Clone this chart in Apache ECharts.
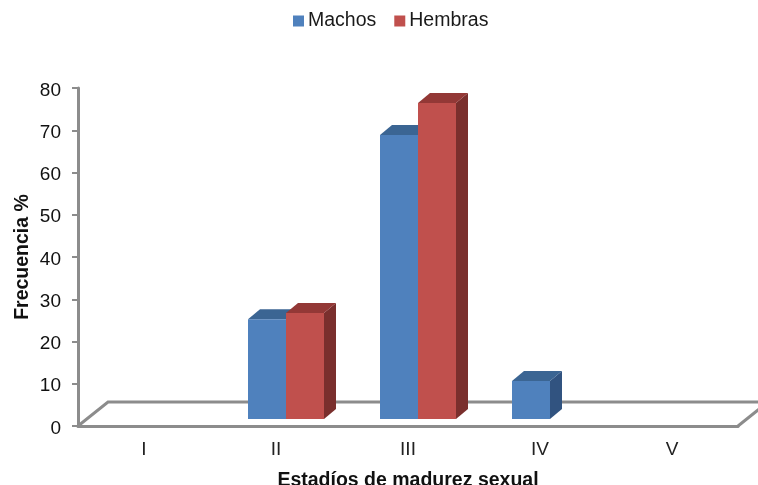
<!DOCTYPE html>
<html>
<head>
<meta charset="utf-8">
<style>html,body{margin:0;padding:0;background:#fff}#c{width:758px;height:485px}</style>
<script src="https://cdn.jsdelivr.net/npm/echarts@6/dist/echarts.min.js"></script>
</head>
<body>
<div id="c"></div>
<script>
var categories = ['I', 'II', 'III', 'IV', 'V'];
var machos = [0, 23.6, 67.2, 9.0, 0];
var hembras = [0, 25.1, 74.8, 0, 0];
var yTicks = {min: 0, max: 80, interval: 10};

var FONT = '"Liberation Sans", Arial, sans-serif';
var GRAY = '#8c8c8c';
var DEPTH_X = 12, DEPTH_Y = 10, LIFT = 7, BAR_W = 38, SHIFT = 10;

function bar3d(seriesIndexOffset, front, top, side) {
  return function (params, api) {
    var v = api.value(1);
    if (!v) { return null; }
    var p0 = api.coord([api.value(0), 0]);
    var p1 = api.coord([api.value(0), v]);
    var x0 = p0[0] + SHIFT + seriesIndexOffset * BAR_W;
    var x1 = x0 + BAR_W;
    var yb = p0[1] - LIFT, yt = p1[1] - LIFT;
    return {
      type: 'group',
      children: [
        {type: 'polygon', shape: {points: [[x1, yt], [x1 + DEPTH_X, yt - DEPTH_Y], [x1 + DEPTH_X, yb - DEPTH_Y], [x1, yb]]}, style: {fill: side}},
        {type: 'polygon', shape: {points: [[x0, yt], [x0 + DEPTH_X, yt - DEPTH_Y], [x1 + DEPTH_X, yt - DEPTH_Y], [x1, yt]]}, style: {fill: top}},
        {type: 'rect', shape: {x: x0, y: yt, width: BAR_W, height: yb - yt}, style: {fill: front}}
      ]
    };
  };
}

function floor(params) {
  var cs = params.coordSys;
  var xl = cs.x, xr = cs.x + cs.width, yb = cs.y + cs.height, dx = 30, dy = 24;
  return {
    type: 'polyline',
    shape: {points: [[xr, yb], [xr + dx, yb - dy], [xl + dx, yb - dy], [xl, yb]]},
    style: {fill: null, stroke: GRAY, lineWidth: 3}
  };
}

function pairs(arr) {
  return arr.map(function (v, i) { return [i, v]; });
}

var chart = echarts.init(document.getElementById('c'), null, {renderer: 'canvas'});
chart.setOption({
  animation: false,
  backgroundColor: '#fff',
  legend: {
    data: ['Machos', 'Hembras'],
    left: 293, top: 11, padding: 0,
    itemWidth: 11, itemHeight: 11, itemGap: 18,
    icon: 'rect',
    textStyle: {fontFamily: FONT, fontSize: 19.5, color: '#1a1a1a', padding: [0, 0, 0, -1]}
  },
  grid: {left: 78, right: 20, top: 88, bottom: 59, outerBoundsMode: 'none'},
  xAxis: {
    type: 'category',
    data: categories,
    name: 'Estadíos de madurez sexual',
    nameLocation: 'middle',
    nameGap: 45,
    nameTextStyle: {fontFamily: FONT, fontSize: 19.5, fontWeight: 'bold', color: '#111'},
    axisLine: {lineStyle: {color: GRAY, width: 3}},
    axisTick: {show: false},
    axisLabel: {fontFamily: FONT, fontSize: 19, color: '#222', margin: 14}
  },
  yAxis: {
    type: 'value',
    min: yTicks.min, max: yTicks.max, interval: yTicks.interval,
    name: 'Frecuencia %',
    nameLocation: 'middle',
    nameGap: 45,
    nameMoveOverlap: false,
    nameTextStyle: {fontFamily: FONT, fontSize: 19.5, fontWeight: 'bold', color: '#111'},
    axisLine: {show: true, lineStyle: {color: GRAY, width: 3}},
    axisTick: {show: true, length: 6, lineStyle: {color: GRAY, width: 2}},
    axisLabel: {
      fontFamily: FONT, fontSize: 19, color: '#111', margin: 17,
      formatter: '{a|{value}}',
      rich: {a: {fontFamily: FONT, fontSize: 19, color: '#111', padding: [5, 0, 0, 0]}}
    },
    splitLine: {show: false}
  },
  series: [
    {type: 'custom', silent: true, z: 1, data: [[0, 0]], renderItem: floor, clip: false},
    {name: 'Machos', type: 'custom', z: 2, itemStyle: {color: '#4f81bd'},
     encode: {x: 0, y: 1}, data: pairs(machos),
     renderItem: bar3d(-1, '#4f81bd', '#3b6593', '#315380')},
    {name: 'Hembras', type: 'custom', z: 3, itemStyle: {color: '#c0504d'},
     encode: {x: 0, y: 1}, data: pairs(hembras),
     renderItem: bar3d(0, '#c0504d', '#933836', '#7a2f2d')}
  ]
});
</script>
</body>
</html>
